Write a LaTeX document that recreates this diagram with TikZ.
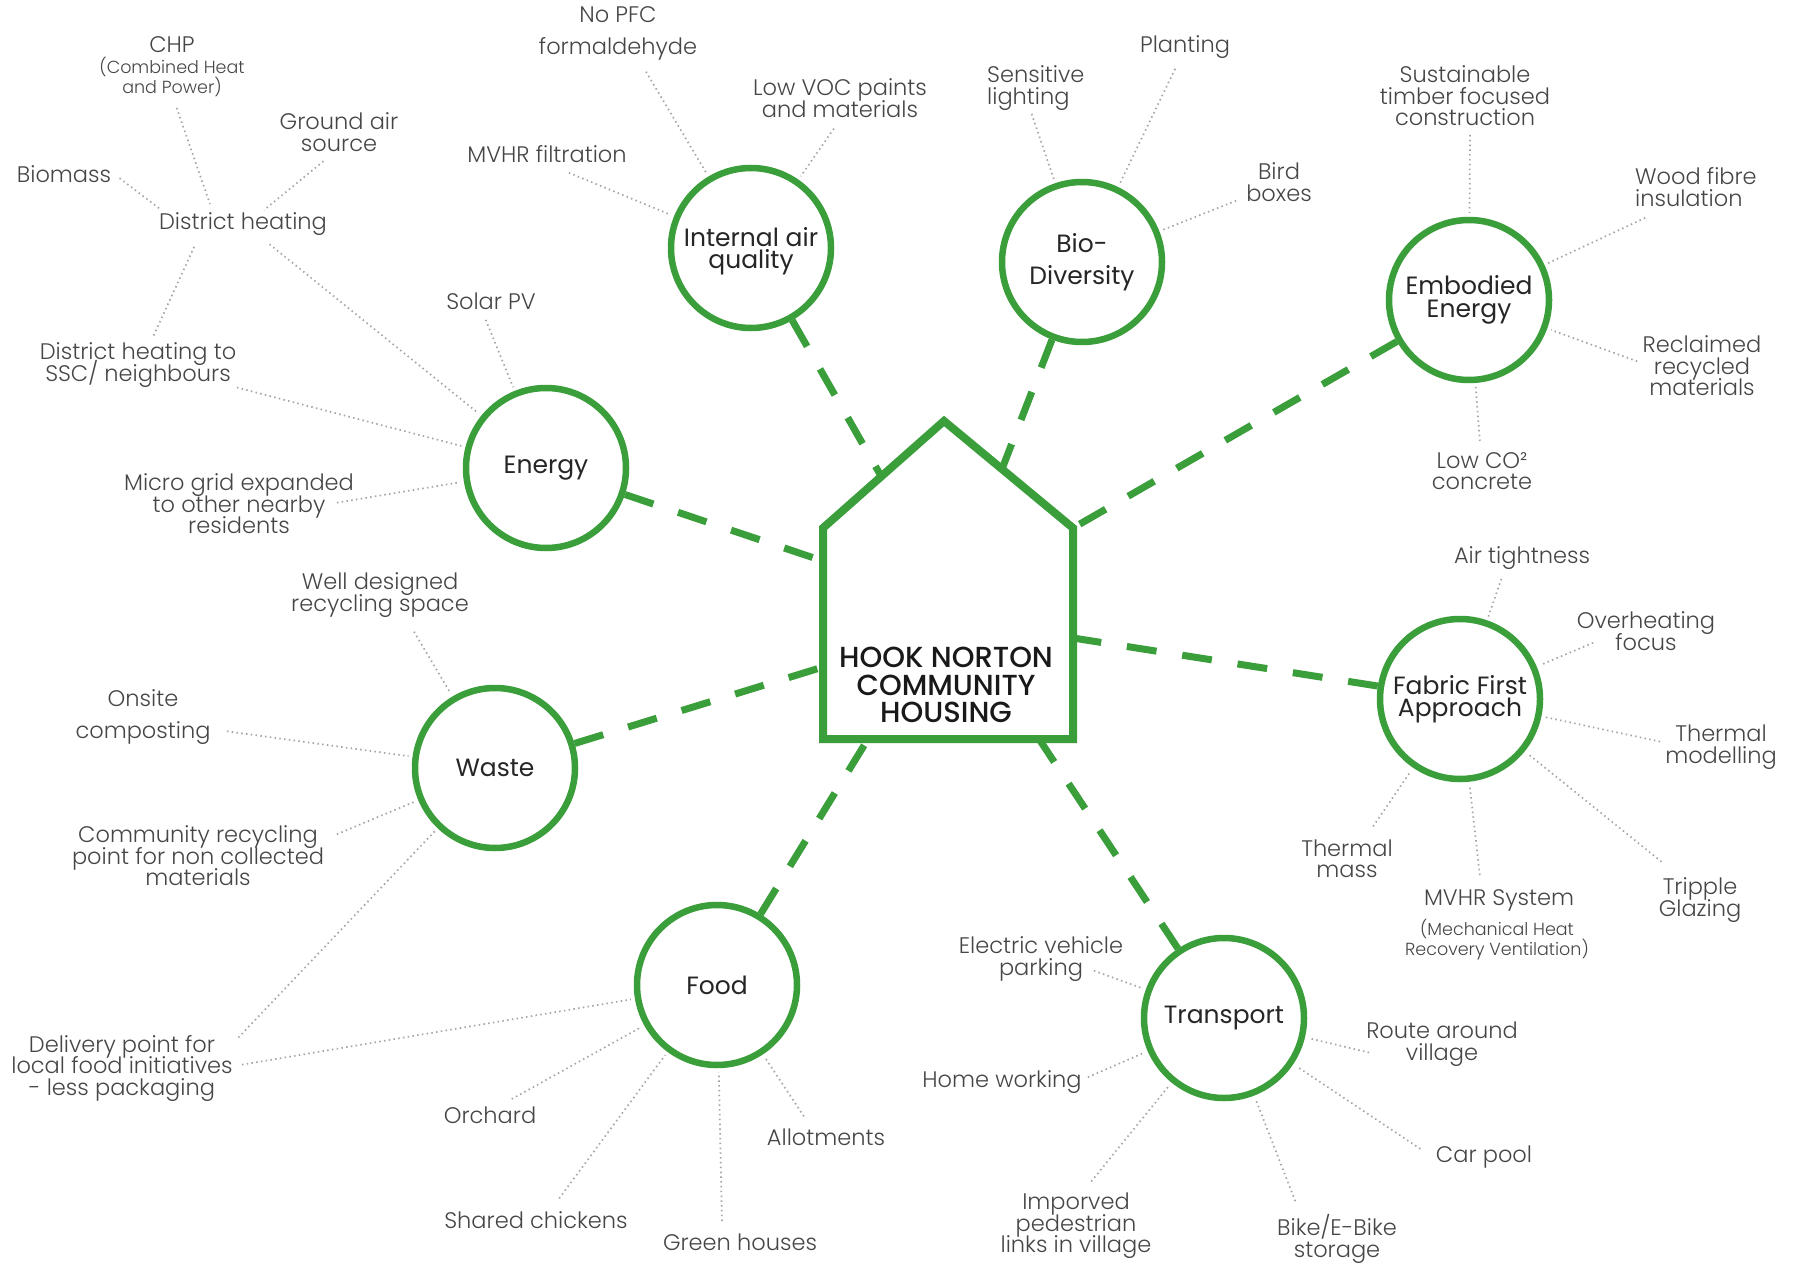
\documentclass[tikz,border=0pt]{standalone}
\usepackage{fontspec}
\setmainfont{Poppins}
\IfFontExistsTF{Poppins Light}{\newfontfamily\labf{Poppins Light}}{\newfontfamily\labf{Poppins}}
\newfontfamily\hubf{Poppins}
\IfFontExistsTF{Poppins Medium}{\newfontfamily\housef{Poppins Medium}}{\newfontfamily\housef{Poppins}}
\definecolor{hg}{RGB}{58,158,58}
\definecolor{lg}{RGB}{70,70,70}
\definecolor{dg}{RGB}{165,165,165}
\tikzset{
  lbl/.style={font={\labf\fontsize{22.5}{21.5}\selectfont\lineskiplimit=-30pt}, text=lg, align=center, inner sep=0pt},
  lblw/.style={lbl, font={\labf\fontsize{22.5}{32}\selectfont\lineskiplimit=-30pt}},
  sublbl/.style={lbl, font={\labf\fontsize{17.5}{20}\selectfont\lineskiplimit=-30pt}},
  hub/.style={circle, draw=hg, line width=6.5pt, minimum size=160pt, inner sep=0pt, align=center,
    font={\hubf\fontsize{25}{22.5}\selectfont\lineskiplimit=-30pt}, text=black!85, fill=white},
  conn/.style={draw=hg, line width=7pt, dash pattern=on 30pt off 26pt},
  spoke/.style={draw=dg, line width=1.7pt, dash pattern=on 1.5pt off 3.3pt, shorten >=4pt, shorten <=2pt},
}
\begin{document}
\begin{tikzpicture}[x=1pt,y=-1pt]
\useasboundingbox (0,0) rectangle (1794,1268);
\fill[white] (0,0) rectangle (1794,1268);

% ---------- house ----------
\draw[hg, line width=8pt, line join=miter] (823,739) -- (823,528) -- (944,421) -- (1073,528) -- (1073,739) -- cycle;
\node[font={\housef\fontsize{29}{27.5}\selectfont\lineskiplimit=-30pt}, text=black!90, align=center, inner sep=0pt] (house) at (946,685)
  {HOOK NORTON\\COMMUNITY\\HOUSING};
\coordinate (hIAQ) at (881,476);
\coordinate (hBio) at (1002,469);
\coordinate (hEmb) at (1073,528);
\coordinate (hEnergy) at (823,561);
\coordinate (hFabric) at (1073,638);
\coordinate (hWaste) at (823,667);
\coordinate (hFood) at (868,739);
\coordinate (hTrans) at (1039,739);

% ---------- hubs ----------
\node[hub, text depth=-5pt] (iaq) at (751,248) {Internal air\\quality};
\node[hub, font={\hubf\fontsize{25}{32}\selectfont}] (bio) at (1082,262) {Bio-\\Diversity};
\node[hub] (emb) at (1469,300) {Embodied\\Energy};
\node[hub] (energy) at (546,468) {Energy};
\node[hub] (waste) at (495,768) {Waste};
\node[hub] (fabric) at (1460,699) {Fabric First\\Approach};
\node[hub] (food) at (717,985) {Food};
\node[hub] (transport) at (1224,1018) {Transport};

% ---------- green dashed connectors ----------
\draw[conn] (iaq) -- (hIAQ);
\draw[conn] (bio) -- (hBio);
\draw[conn] (emb) -- (hEmb);
\draw[conn] (energy) -- (hEnergy);
\draw[conn] (fabric) -- (hFabric);
\draw[conn] (waste) -- (hWaste);
\draw[conn] (food) -- (hFood);
\draw[conn] (transport) -- (hTrans);

% ---------- labels ----------
\node[lbl] (chp) at (172,45) {CHP};
\node[sublbl] (chpsub) at (172,77) {(Combined Heat\\and Power)};
\node[lbl] (biomass) at (64,174) {Biomass};
\node[lbl] (ground) at (339,132) {Ground air\\source};
\node[lbl] (dh) at (243,224) {District heating};
\node[lbl] (dhssc) at (138,365) {District heating to\\SSC/ neighbours};
\node[lbl] (solar) at (491,301) {Solar PV};
\node[lbl] (micro) at (239,504) {Micro grid expanded\\to other nearby\\residents};
\node[lbl] (mvhrf) at (547,154) {MVHR filtration};
\node[lblw] (nopfc) at (618,33) {No PFC\\formaldehyde};
\node[lbl] (lowvoc) at (840,98) {Low VOC paints\\and materials};
\node[lbl, align=left, anchor=west] (sens) at (987,88) {Sensitive\\lighting};
\node[lbl] (planting) at (1185,47) {Planting};
\node[lbl] (bird) at (1279,182) {Bird\\boxes};
\node[lbl] (sust) at (1465,96) {Sustainable\\timber focused\\construction};
\node[lbl, align=left, anchor=west] (wood) at (1635,187) {Wood fibre\\insulation};
\node[lbl] (recl) at (1702,366) {Reclaimed\\recycled\\materials};
\node[lbl] (lowco) at (1482,471) {Low CO²\\concrete};
\node[lbl] (air) at (1522,558) {Air tightness};
\node[lbl] (overh) at (1646,631) {Overheating\\focus};
\node[lbl] (thmod) at (1721,747) {Thermal\\modelling};
\node[lbl] (trip) at (1700,900) {Tripple\\Glazing};
\node[lbl] (mvhrs) at (1499,900) {MVHR System};
\node[sublbl] (mvhrsub) at (1497,940) {(Mechanical Heat\\Recovery Ventilation)};
\node[lbl] (thmass) at (1347,859) {Thermal\\mass};
\node[lbl] (well) at (380,595) {Well designed\\recycling space};
\node[lbl, font={\labf\fontsize{22.5}{32}\selectfont\lineskiplimit=-30pt}] (onsite) at (143,717) {Onsite\\composting};
\node[lbl] (comm) at (198,856) {Community recycling\\point for non collected\\materials};
\node[lbl] (deliv) at (122,1068) {Delivery point for\\local food initiatives\\- less packaging};
\node[lbl] (orch) at (490,1115) {Orchard};
\node[lbl] (chick) at (536,1220) {Shared chickens};
\node[lbl] (greenh) at (740,1242) {Green houses};
\node[lbl] (allot) at (826,1137) {Allotments};
\node[lbl] (ev) at (1041,959) {Electric vehicle\\parking};
\node[lbl] (home) at (1002,1082) {Home working};
\node[lbl] (ped) at (1076,1226) {Imporved\\pedestrian\\links in village};
\node[lbl] (bike) at (1337,1239) {Bike/E-Bike\\storage};
\node[lbl] (carpool) at (1484,1157) {Car pool};
\node[lbl] (route) at (1442,1044) {Route around\\village};

% ---------- spoke end coordinates ----------
\coordinate (cSolar) at (485,318);
\coordinate (cDHE) at (268,243);
\coordinate (cSSC) at (235,387);
\coordinate (cMicro) at (335,503);
\coordinate (bmA) at (118,177); \coordinate (bmB) at (160,209);
\coordinate (chA) at (176,106); \coordinate (chB) at (210,204);
\coordinate (gaA) at (325,160); \coordinate (gaB) at (264,210);
\coordinate (ssA) at (195,245); \coordinate (ssB) at (153,337);
\coordinate (cMVHRf) at (567,172);
\coordinate (cPFC) at (645,70);
\coordinate (cVOC) at (835,127);
\coordinate (cSens) at (1031,112);
\coordinate (cPlant) at (1176,67);
\coordinate (cBird) at (1238,200);
\coordinate (cSust) at (1470,133);
\coordinate (cWood) at (1647,217);
\coordinate (cRecl) at (1639,362);
\coordinate (cLowCO) at (1480,443);
\coordinate (cAir) at (1502,577);
\coordinate (cOver) at (1595,642);
\coordinate (cThMod) at (1662,742);
\coordinate (cTrip) at (1663,863);
\coordinate (cMVHRs) at (1480,877);
\coordinate (cThMass) at (1372,828);
\coordinate (cWell) at (413,630);
\coordinate (cOnsite) at (225,731);
\coordinate (cComm) at (335,835);
\coordinate (cDelW) at (237,1039);
\coordinate (cDelF) at (240,1065);
\coordinate (cOrch) at (510,1100);
\coordinate (cChick) at (558,1200);
\coordinate (cGreen) at (722,1223);
\coordinate (cAllot) at (805,1118);
\coordinate (cEV) at (1092,970);
\coordinate (cHome) at (1086,1078);
\coordinate (cPed) at (1090,1183);
\coordinate (cBike) at (1296,1203);
\coordinate (cCar) at (1422,1150);
\coordinate (cRoute) at (1371,1053);

% ---------- dotted spokes ----------
\draw[spoke] (cSolar) -- (energy);
\draw[spoke] (cDHE) -- (energy);
\draw[spoke] (cSSC) -- (energy);
\draw[spoke] (cMicro) -- (energy);
\draw[spoke, shorten >=0pt] (bmA) -- (bmB);
\draw[spoke, shorten >=0pt] (chA) -- (chB);
\draw[spoke, shorten >=0pt] (gaA) -- (gaB);
\draw[spoke, shorten >=0pt] (ssA) -- (ssB);
\draw[spoke] (cMVHRf) -- (iaq);
\draw[spoke] (cPFC) -- (iaq);
\draw[spoke] (cVOC) -- (iaq);
\draw[spoke] (cSens) -- (bio);
\draw[spoke] (cPlant) -- (bio);
\draw[spoke] (cBird) -- (bio);
\draw[spoke] (cSust) -- (emb);
\draw[spoke] (cWood) -- (emb);
\draw[spoke] (cRecl) -- (emb);
\draw[spoke] (cLowCO) -- (emb);
\draw[spoke] (cAir) -- (fabric);
\draw[spoke] (cOver) -- (fabric);
\draw[spoke] (cThMod) -- (fabric);
\draw[spoke] (cTrip) -- (fabric);
\draw[spoke] (cMVHRs) -- (fabric);
\draw[spoke] (cThMass) -- (fabric);
\draw[spoke] (cWell) -- (waste);
\draw[spoke] (cOnsite) -- (waste);
\draw[spoke] (cComm) -- (waste);
\draw[spoke] (cDelW) -- (waste);
\draw[spoke] (cDelF) -- (food);
\draw[spoke] (cOrch) -- (food);
\draw[spoke] (cChick) -- (food);
\draw[spoke] (cGreen) -- (food);
\draw[spoke] (cAllot) -- (food);
\draw[spoke] (cEV) -- (transport);
\draw[spoke] (cHome) -- (transport);
\draw[spoke] (cPed) -- (transport);
\draw[spoke] (cBike) -- (transport);
\draw[spoke] (cCar) -- (transport);
\draw[spoke] (cRoute) -- (transport);
\end{tikzpicture}
\end{document}
